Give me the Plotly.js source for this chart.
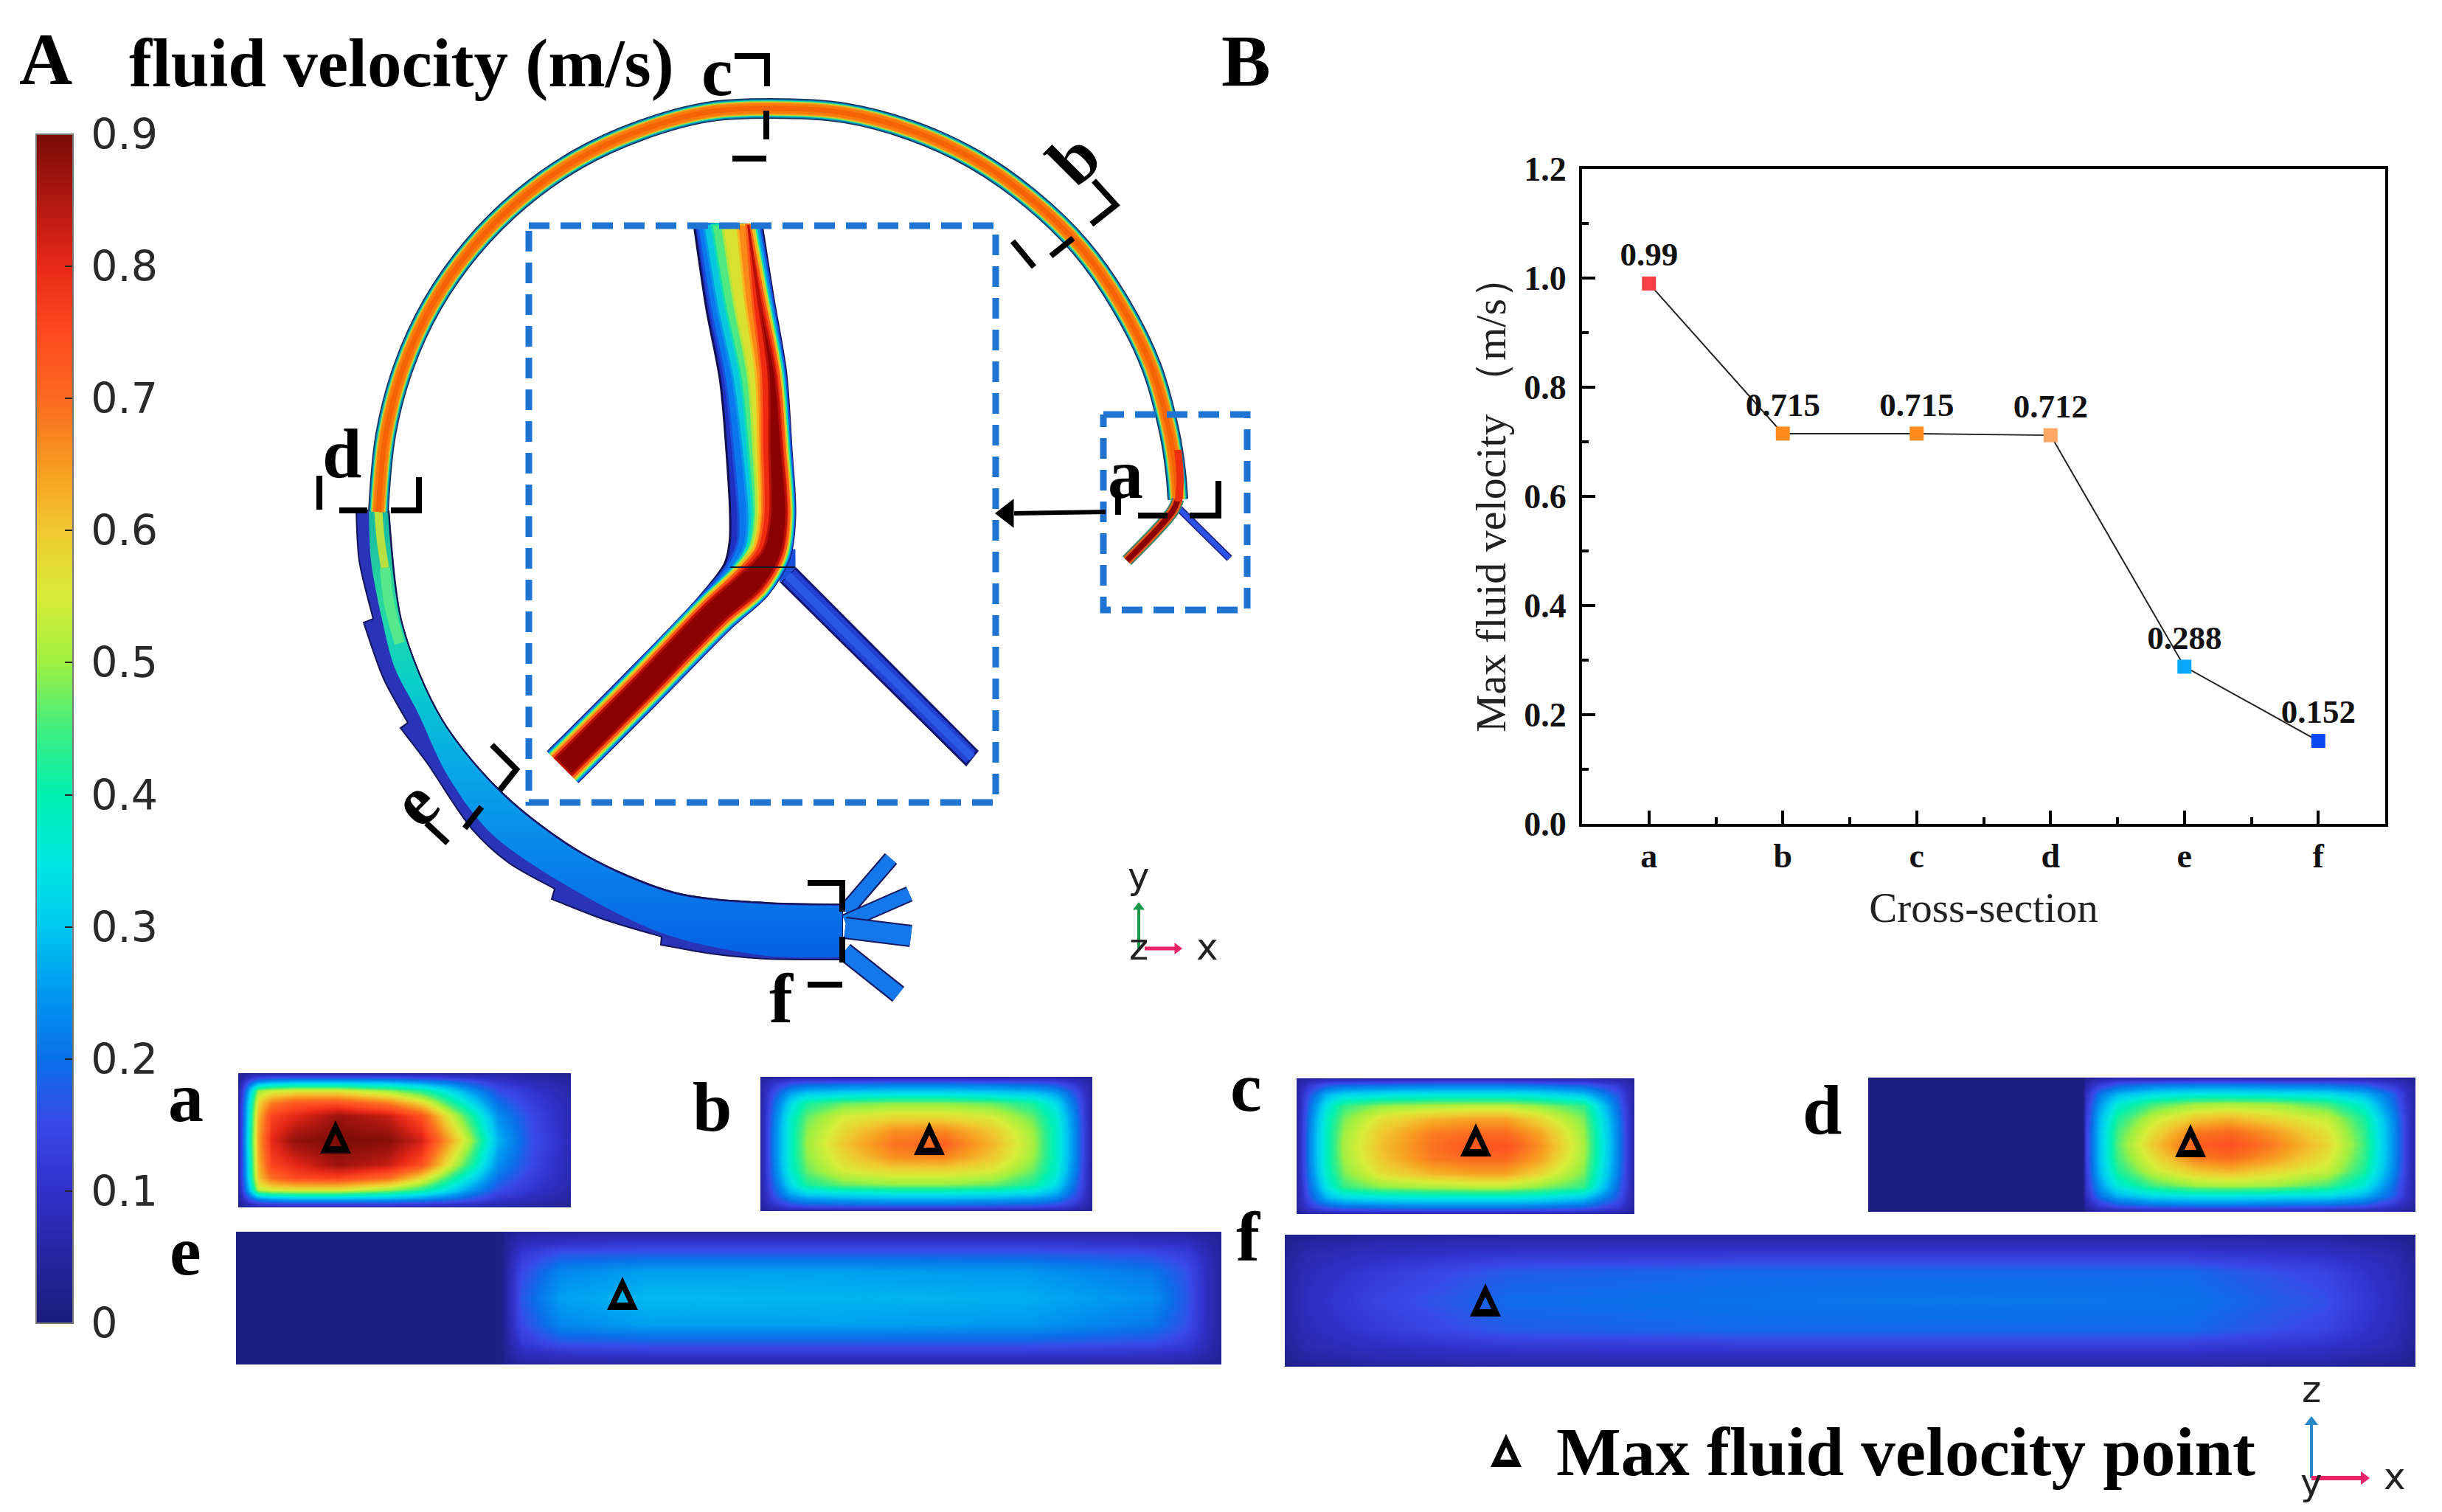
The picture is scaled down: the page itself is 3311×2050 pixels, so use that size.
<!DOCTYPE html>
<html><head><meta charset="utf-8">
<script src="https://cdn.plot.ly/plotly-3.0.1.min.js"></script>
<style>html,body{margin:0;padding:0;background:#fff}</style></head>
<body><div id="chart" style="width:3311px;height:2050px"></div>
<script>
// ---------- panel B data ----------
const crossSections = ['a','b','c','d','e','f'];
const maxVelocity = [0.99,0.715,0.715,0.712,0.288,0.152];
const velocityLabels = ['0.99','0.715','0.715','0.712','0.288','0.152'];
const pointColors = ['#fb4048','#ff8a1c','#ff8a1c','#ffa866','#08aaff','#0a48f0'];
const yTicks = [0,0.2,0.4,0.6,0.8,1.0,1.2];
const yTickLabels = ['0.0','0.2','0.4','0.6','0.8','1.0','1.2'];
const yMinor = [0.1,0.3,0.5,0.7,0.9,1.1];
const xMinor = [0.5,1.5,2.5,3.5,4.5];

// ---------- colour bar ----------
const barTicks = [0,0.1,0.2,0.3,0.4,0.5,0.6,0.7,0.8,0.9];
const barLabels = ['\u20090','\u20090.1','\u20090.2','\u20090.3','\u20090.4','\u20090.5','\u20090.6','\u20090.7','\u20090.8','\u20090.9'];
const rainbow = [[0,'#1b1b7a'],[0.111,'#3030c8'],[0.167,'#3a48e8'],[0.222,'#0a70e8'],[0.278,'#0098f0'],[0.333,'#00c8f0'],
 [0.389,'#00e8e0'],[0.444,'#00f0b0'],[0.5,'#40ee80'],[0.556,'#a0f040'],[0.611,'#d8ec38'],[0.667,'#f0c830'],[0.722,'#f89a20'],
 [0.778,'#fb6a20'],[0.833,'#ff4a20'],[0.889,'#e82818'],[0.944,'#b01810'],[1,'#7a0c06']];

// ---------- cross-section velocity grids ----------
const aX=[0,.03,.06,.1,.17,.3,.45,.55,.62,.7,.78,.88,1];
const aY=[0,.06,.13,.22,.32,.5,.68,.78,.87,.94,1];
const aZ=[
[.03,.04,.05,.05,.05,.05,.05,.05,.05,.05,.05,.04,.03],
[.03,.15,.22,.25,.27,.27,.26,.23,.2,.16,.11,.08,.05],
[.04,.27,.5,.54,.56,.56,.5,.43,.35,.25,.16,.11,.06],
[.05,.32,.58,.68,.73,.74,.68,.58,.46,.33,.2,.13,.07],
[.05,.34,.62,.76,.8,.87,.83,.74,.58,.42,.24,.15,.07],
[.05,.36,.64,.8,.88,.9,.89,.82,.67,.5,.28,.16,.08],
[.05,.34,.62,.76,.8,.87,.83,.74,.58,.42,.24,.15,.07],
[.05,.33,.6,.7,.75,.76,.7,.58,.46,.33,.2,.13,.07],
[.04,.28,.52,.55,.56,.56,.5,.43,.35,.25,.16,.11,.06],
[.03,.15,.22,.25,.27,.27,.26,.23,.2,.16,.11,.08,.05],
[.03,.04,.05,.05,.05,.05,.05,.05,.05,.05,.05,.04,.03]];
const bX=[0,.04,.09,.14,.25,.4,.55,.7,.82,.89,.95,1];
const bY=[0,.05,.12,.2,.3,.4,.5,.6,.7,.8,.88,.95,1];
const bZ=[
[.04,.05,.06,.06,.06,.06,.06,.06,.06,.06,.05,.04],
[.05,.11,.16,.18,.19,.2,.2,.19,.18,.16,.11,.05],
[.05,.16,.26,.3,.32,.33,.33,.32,.3,.26,.16,.05],
[.05,.19,.33,.42,.47,.49,.49,.47,.42,.33,.19,.05],
[.05,.21,.37,.47,.55,.58,.58,.55,.47,.37,.21,.05],
[.05,.22,.38,.49,.58,.66,.67,.6,.5,.38,.22,.05],
[.05,.22,.38,.5,.6,.69,.715,.62,.51,.38,.22,.05],
[.05,.22,.38,.49,.58,.66,.67,.6,.5,.38,.22,.05],
[.05,.21,.37,.47,.55,.58,.58,.55,.47,.37,.21,.05],
[.05,.19,.33,.42,.47,.49,.49,.47,.42,.33,.19,.05],
[.05,.16,.26,.3,.32,.33,.33,.32,.3,.26,.16,.05],
[.05,.11,.16,.18,.19,.2,.2,.19,.18,.16,.11,.05],
[.04,.05,.06,.06,.06,.06,.06,.06,.06,.06,.05,.04]];
const cX=[0,.04,.09,.14,.25,.4,.52,.62,.72,.85,.95,1];
const cY=[0,.05,.12,.2,.3,.4,.5,.6,.7,.8,.88,.95,1];
const cZ=[
[.04,.05,.06,.06,.06,.06,.06,.06,.06,.06,.05,.04],
[.05,.12,.17,.19,.2,.21,.21,.21,.2,.18,.12,.05],
[.05,.17,.28,.32,.34,.35,.35,.35,.34,.3,.17,.05],
[.05,.2,.35,.44,.49,.51,.52,.52,.49,.44,.2,.05],
[.05,.22,.38,.48,.57,.62,.64,.64,.58,.48,.22,.05],
[.05,.23,.39,.5,.6,.68,.7,.7,.64,.5,.23,.05],
[.05,.23,.39,.51,.61,.69,.73,.735,.66,.51,.23,.05],
[.05,.23,.39,.5,.6,.68,.7,.7,.64,.5,.23,.05],
[.05,.22,.38,.48,.57,.62,.64,.64,.58,.48,.22,.05],
[.05,.2,.35,.44,.49,.51,.52,.52,.49,.44,.2,.05],
[.05,.17,.28,.32,.34,.35,.35,.35,.34,.3,.17,.05],
[.05,.12,.17,.19,.2,.21,.21,.21,.2,.18,.12,.05],
[.04,.05,.06,.06,.06,.06,.06,.06,.06,.06,.05,.04]];
const dX=[0,.392,.398,.42,.455,.52,.6,.66,.74,.84,.905,.96,1];
const dY=[0,.05,.12,.2,.3,.4,.5,.6,.7,.8,.88,.95,1];
const dZ=[
[.01,.01,.03,.05,.06,.06,.06,.06,.06,.06,.06,.05,.04],
[.01,.01,.06,.12,.17,.2,.21,.21,.2,.19,.17,.11,.05],
[.01,.01,.09,.2,.28,.33,.35,.35,.34,.33,.28,.18,.05],
[.01,.01,.11,.24,.36,.45,.5,.51,.5,.45,.36,.2,.05],
[.01,.01,.12,.27,.42,.53,.6,.62,.58,.53,.42,.23,.05],
[.01,.01,.13,.28,.45,.57,.68,.7,.65,.56,.44,.24,.05],
[.01,.01,.13,.28,.46,.6,.72,.74,.68,.58,.45,.24,.05],
[.01,.01,.13,.28,.45,.57,.68,.7,.65,.56,.44,.24,.05],
[.01,.01,.12,.27,.42,.53,.6,.62,.58,.53,.42,.23,.05],
[.01,.01,.11,.24,.36,.45,.5,.51,.5,.45,.36,.2,.05],
[.01,.01,.09,.2,.28,.33,.35,.35,.34,.33,.28,.18,.05],
[.01,.01,.06,.12,.17,.2,.21,.21,.2,.19,.17,.11,.05],
[.01,.01,.03,.05,.06,.06,.06,.06,.06,.06,.06,.05,.04]];
const eX=[0,.268,.275,.29,.33,.42,.6,.8,.93,.965,.985,1];
const eY=[0,.08,.17,.3,.5,.7,.83,.92,1];
const eZ=[
[.01,.01,.03,.05,.05,.05,.05,.05,.05,.05,.04,.03],
[.01,.01,.04,.08,.1,.11,.11,.11,.1,.09,.06,.04],
[.01,.01,.05,.12,.17,.18,.18,.18,.16,.13,.08,.04],
[.01,.01,.06,.15,.23,.26,.26,.25,.21,.16,.09,.04],
[.01,.01,.06,.17,.26,.285,.28,.275,.24,.17,.09,.04],
[.01,.01,.06,.15,.23,.26,.26,.25,.21,.16,.09,.04],
[.01,.01,.05,.12,.17,.18,.18,.18,.16,.13,.08,.04],
[.01,.01,.04,.08,.1,.11,.11,.11,.1,.09,.06,.04],
[.01,.01,.03,.05,.05,.05,.05,.05,.05,.05,.04,.03]];
const fX=[0,.02,.08,.2,.4,.6,.8,.92,.98,1];
const fY=[0,.06,.15,.28,.5,.72,.85,.94,1];
const fZ=[
[.02,.03,.04,.05,.05,.05,.05,.04,.03,.02],
[.03,.05,.07,.08,.08,.08,.08,.07,.05,.03],
[.04,.07,.09,.115,.12,.12,.12,.1,.07,.04],
[.05,.08,.12,.175,.19,.19,.19,.14,.08,.05],
[.05,.09,.14,.195,.205,.21,.205,.16,.09,.05],
[.05,.08,.12,.175,.19,.19,.19,.14,.08,.05],
[.04,.07,.09,.115,.12,.12,.12,.1,.07,.04],
[.03,.05,.07,.08,.08,.08,.08,.07,.05,.03],
[.02,.03,.04,.05,.05,.05,.05,.04,.03,.02]];
const sectionBoxes = {a:[323,774,1455,1637],b:[1031,1481,1460,1642],c:[1758,2216,1462,1646],d:[2533,3275,1461,1643],e:[320,1656,1670,1850],f:[1742,3275,1674,1853]};
const sectionGrids = {a:[aX,aY,aZ],b:[bX,bY,bZ],c:[cX,cY,cZ],d:[dX,dY,dZ],e:[eX,eY,eZ],f:[fX,fY,fZ]};
const peakX=[455,1260,2001,2970,844,2014,2042];
const peakY=[1543,1545,1547,1548,1755,1764,1968];

// ---------- channel geometry ----------
const ringX=[1597,1594,1586,1561,1519,1465,1398,1321,1236,1145,1045,959,868,783,706,640,586,547,523,513];
const ringY=[677,640,588,497,412,335,270,216,177,153,147,152,177,216,270,336,413,498,589,694];
const ringStripes=[[28,'#16305c'],[25,'#0086b8'],[22,'#20d8a8'],[19.5,'#b0dc38'],[17,'#f4a018'],[14,'#fb7a0c'],[7,'#f46406']];
const stubLeftX=[1597,1590,1528]; const stubLeftY=[677,693,760];
const stubRightX=[1597,1667]; const stubRightY=[688,757];
const funnelOuterRuns=[
 [[483,487,506],[693,760,839]],[[506,493],[839,844]],[[493,520,553],[844,920,980]],[[553,543],[980,987]],
 [[543,578,640,690,752],[987,1033,1124,1170,1205]],[[752,748],[1205,1219]],[[748,823,897],[1219,1248,1270]],[[897,896],[1270,1281]],
 [[896,964,1038,1142],[1281,1293,1300,1301]],[[1142,1142],[1301,1226]],
 [[1142,1038,914,790,682,599,545,527],[1226,1224,1210,1157,1076,975,845,693]],[[527,483],[693,693]]];
const funnelMainRuns=[
 [[500,503,518,535,566,606,664,762,900,1040,1142],[693,760,840,905,965,1050,1128,1197,1266,1296,1298]],[[1142,1142],[1298,1228]],
 [[1142,1038,914,790,682,599,545,527],[1228,1226,1212,1159,1078,977,847,693]],[[527,500],[693,693]]];
const funnelInnerEdgeX=[1142,1038,914,790,682,599,545,527];
const funnelInnerEdgeY=[1226,1224,1210,1157,1076,975,845,693];
const funnelGrad=[[0,'#18b8a0'],[0.2,'#28d8a0'],[0.38,'#08d0c8'],[0.57,'#08a8e8'],[0.75,'#0888ea'],[1,'#0560e4']];
const coreAX=[513,516,522]; const coreAY=[693,730,770];
const coreBX=[522,528,542]; const coreBY=[770,820,872];
const outletsX=[[1146,1208],[1146,1233],[1146,1235],[1145,1218]];
const outletsY=[[1236,1164],[1250,1212],[1258,1269],[1290,1348]];
const outletW=[18,18,26,22];
const insetX=[987,1003,1021,1029,1034,1030,1012,970,870,764];
const insetY=[305,410,510,610,700,745,785,830,933,1039];
const insetHalf=[46,46,45,44,44,42,36,30,29,29];
const blueL=[-.9,-.88,-.85,-.8,-.75,-.75,-.9,-.97,-.97,-.97], blueR=[.95,.97,.97,.98,.98,.98,.98,.97,.97,.97];
const cyanL=[-.72,-.68,-.62,-.53,-.47,-.5,-.7,-.92,-.92,-.92], cyanR=[.89,.92,.93,.94,.95,.95,.95,.92,.92,.92];
const greenL=[-.48,-.44,-.38,-.34,-.32,-.4,-.65,-.87,-.87,-.87], greenR=[.8,.86,.9,.92,.93,.92,.92,.87,.87,.87];
const yellowL=[-.17,-.17,-.15,-.17,-.2,-.3,-.6,-.82,-.82,-.82], yellowR=[.76,.82,.85,.88,.89,.88,.88,.82,.82,.82];
const orangeL=[.28,.17,.09,-.02,-.09,-.2,-.55,-.76,-.76,-.76], orangeR=[.72,.78,.82,.84,.86,.84,.83,.76,.76,.76];
const redL=[.54,.38,.24,.1,.02,-.1,-.45,-.68,-.68,-.68], redR=[.63,.72,.78,.8,.82,.8,.78,.68,.68,.68];
const darkL=[.6,.55,.47,.32,.23,.1,-.3,-.55,-.55,-.55], darkR=[.6,.6,.67,.7,.73,.7,.65,.55,.55,.55];
const insetLevels=[[blueL,blueR,'#0a78ec','#1a50dc'],[cyanL,cyanR,'#08c8e0','#0898e8'],[greenL,greenR,'#50e880','#10e0b0'],[yellowL,yellowR,'#d8e030','#a8e840'],
 [orangeL,orangeR,'#fb8a18','#f8b820'],[redL,redR,'#ee2a10','#fb5a18'],[darkL,darkR,'#8b0000','#b81008']];
const insetRightX=[1078,1325,1310,1059]; const insetRightY=[770,1018,1037,789];
const insetRightCoreX=[1066,1318]; const insetRightCoreY=[778,1027];
const insetJoinX=[1030,1078,1078,1059,1040]; const insetJoinY=[745,745,770,789,770];
const junctionX=[990,1078]; const junctionY=[769,769];
const bracketPaths=[
 [[996,1040,1040],[76,76,117]],[[1039,1039],[150,189]],[[993,1039],[215,215]],
 [[433,433],[645,691]],[[460,498],[692,692]],[[530,568,568],[692,692,647]],
 [[1483,1513,1480],[245,278,304]],[[1455,1425],[323,347]],[[1373,1402],[327,362]],
 [[667,700,678],[1010,1043,1071]],[[653,630],[1094,1123]],[[578,607],[1116,1143]],
 [[1095,1142,1142],[1197,1197,1236]],[[1142,1142],[1270,1305]],[[1095,1142],[1335,1335]],
 [[1543,1583],[699,699]],[[1613,1652,1652],[699,699,652]],[[1516,1516],[670,698]]];
const arrowLineX=[1499,1375]; const arrowLineY=[694,696];
const arrowHeadX=[1366]; const arrowHeadY=[696];
const boxBigX=[717,1350,1350,717,717]; const boxBigY=[306,306,1088,1088,306];
const boxSmallX=[1496,1691,1691,1496,1496]; const boxSmallY=[562,562,827,827,562];
const triadA={greenX:[1544,1544],greenY:[1286,1230],redX:[1552,1596],redY:[1286,1286]};
const triadB={blueX:[3134,3134],blueY:[2004,1928],redX:[3134,3205],redY:[2004,2004]};
const SERIF='"Liberation Serif","Times New Roman",serif';
const SANS='"DejaVu Sans",sans-serif';
const boldLabels=[['A',62,80,100,0],['fluid velocity (m/s)',544,85,93,0],['B',1689,82,100,0],
 ['c',972,96,96,0],['d',463,614,96,0],['b',1455,215,96,-45],['a',1526,642,96,0],['e',562,1088,96,-45],['f',1059,1353,96,0],
 ['a',252,1487,96,0],['b',965,1500,96,0],['c',1689,1473,96,0],['d',2470,1504,96,0],['e',251,1695,96,0],['f',1692,1676,96,0],
 ['Max fluid velocity point',2584,1968,93,0]];
const sansLabels=[['y',1544,1188,50],['x',1637,1284,50],['z',1544,1284,50],['z',3134,1884,50],['x',3247,2002,50],['y',3134,2010,50]];

// ---------- build ----------
const W=3311,H=2050;
const traces=[];
const OV={xaxis:'x8',yaxis:'y8',hoverinfo:'skip',showlegend:false};
function line(x,y,color,width,extra){traces.push(Object.assign({type:'scatter',mode:'lines',x,y,line:{color,width}},OV,extra||{}));}
function poly(x,y,fill,lc,lw,extra){traces.push(Object.assign({type:'scatter',mode:'lines',x:x.concat([x[0]]),y:y.concat([y[0]]),fill:'toself',fillcolor:fill,line:{color:lc,width:lw}},OV,extra||{}));}
function chain(runs){
 const X=[],Y=[];
 const near=(ax,ay,bx,by)=>{const d=Math.hypot(bx-ax,by-ay);if(d===0)return null;const t=Math.min(2.5,d/3)/d;return [ax+(bx-ax)*t,ay+(by-ay)*t];};
 runs.forEach(r=>{
  const [xs,ys]=r,n=xs.length-1;
  xs.forEach((x,i)=>{
   X.push(x);Y.push(ys[i]);
   if(i===0){const p=near(x,ys[0],xs[1],ys[1]);if(p){X.push(p[0]);Y.push(p[1]);}}
   if(i===n-1){const p=near(xs[n],ys[n],x,ys[i]);if(p&&n>1){X.push(p[0]);Y.push(p[1]);}}
  });
 });
 return [X,Y];
}
const SPL={shape:'spline',smoothing:0.9,simplify:false};

traces.push({type:'scatter',mode:'lines+markers+text',x:crossSections.map((_,i)=>i),y:maxVelocity,text:velocityLabels,textposition:'top center',
 textfont:{family:SERIF,size:45,color:'#111',weight:'bold'},line:{color:'#222',width:2},
 marker:{symbol:'square',size:19,color:pointColors,line:{width:0}},xaxis:'x',yaxis:'y',showlegend:false,cliponaxis:false});

const order=['a','b','c','d','e','f'];
const layout={width:W,height:H,margin:{l:0,r:0,t:0,b:0},paper_bgcolor:'#fff',plot_bgcolor:'rgba(0,0,0,0)',showlegend:false,
 coloraxis:{cmin:0,cmax:0.9,colorscale:rainbow,colorbar:{x:49/W,xanchor:'left',y:1-182/H,yanchor:'top',lenmode:'pixels',len:1612,thicknessmode:'pixels',thickness:50,xpad:0,ypad:0,
   tickmode:'array',tickvals:barTicks,ticktext:barLabels,ticks:'inside',ticklen:12,tickcolor:'#222',tickwidth:2,outlinecolor:'#777',outlinewidth:2,
   tickfont:{family:SANS,size:57,color:'#2a2a2a'}}},
 xaxis:{domain:[2145/W,3234/W],range:[-0.5,5.5],anchor:'y',tickmode:'array',tickvals:crossSections.map((_,i)=>i),ticktext:crossSections,ticks:'inside',ticklen:18,tickwidth:4,tickcolor:'#000',
   minor:{tickmode:'array',tickvals:xMinor,ticks:'inside',ticklen:9,tickwidth:4,tickcolor:'#000'},
   showline:true,mirror:true,linecolor:'#000',linewidth:4,showgrid:false,zeroline:false,tickfont:{family:SERIF,size:46,color:'#111',weight:'bold'},
   title:{text:'Cross-section',font:{family:SERIF,size:57,color:'#222'},standoff:26},ticklabelstandoff:0},
 yaxis:{domain:[1-1117/H,1-229/H],range:[0,1.2],anchor:'x',tickmode:'array',tickvals:yTicks,ticktext:yTickLabels,ticks:'inside',ticklen:18,tickwidth:4,tickcolor:'#000',
   minor:{tickmode:'array',tickvals:yMinor,ticks:'inside',ticklen:9,tickwidth:4,tickcolor:'#000'},
   showline:true,mirror:true,linecolor:'#000',linewidth:4,showgrid:false,zeroline:false,tickfont:{family:SERIF,size:46,color:'#111',weight:'bold'},ticklabelstandoff:8},
 xaxis8:{domain:[0,1],range:[0,W],visible:false,anchor:'y8',fixedrange:true},
 yaxis8:{domain:[0,1],range:[H,0],visible:false,anchor:'x8',fixedrange:true},
 annotations:[],shapes:[]};
order.forEach((k,i)=>{
 const n=i+2,[l,r,t,b]=sectionBoxes[k],[gx,gy,gz]=sectionGrids[k];
 traces.push({type:'heatmap',x:gx,y:gy,z:gz,coloraxis:'coloraxis',zsmooth:'best',xaxis:'x'+n,yaxis:'y'+n,hoverinfo:'skip'});
 layout['xaxis'+n]={domain:[l/W,r/W],range:[0,1],visible:false,anchor:'y'+n};
 layout['yaxis'+n]={domain:[1-b/H,1-t/H],range:[1,0],visible:false,anchor:'x'+n};
});

outletsX.forEach((x,i)=>{line(x,outletsY[i],'#181860',outletW[i]+4);line(x,outletsY[i],'#1478ea',outletW[i]);});
{const [fx,fy]=chain(funnelOuterRuns);
 traces.push(Object.assign({type:'scatter',mode:'lines',x:fx,y:fy,fill:'toself',fillcolor:'#2a34b8',line:Object.assign({color:'#141458',width:2},SPL)},OV));
 const [mx,my]=chain(funnelMainRuns);
 traces.push(Object.assign({type:'scatter',mode:'lines',x:mx,y:my,fill:'toself',fillgradient:{type:'vertical',colorscale:funnelGrad,start:693,stop:1300},line:Object.assign({width:0},SPL)},OV));
}
line(coreAX,coreAY,'#b8e040',11,{line:{color:'#b8e040',width:11,shape:'spline'}});
line(coreBX,coreBY,'#58e88c',14,{line:{color:'#58e88c',width:14,shape:'spline'}});
line(funnelInnerEdgeX,funnelInnerEdgeY,'#141458',2,{line:{color:'#141458',width:2,shape:'spline',smoothing:0.9}});
ringStripes.forEach(s=>line(ringX,ringY,s[1],s[0],{line:{color:s[1],width:s[0],shape:'spline',smoothing:1}}));
line(stubRightX,stubRightY,'#1a1a70',10);line(stubRightX,stubRightY,'#2c52e8',7);
line(stubLeftX,stubLeftY,'#3a8a70',17,{line:{color:'#3a8a70',width:17,shape:'spline'}});
line(stubLeftX,stubLeftY,'#f05818',13,{line:{color:'#f05818',width:13,shape:'spline'}});
line(stubLeftX,stubLeftY,'#8b0000',8,{line:{color:'#8b0000',width:8,shape:'spline'}});
line([1597,1600,1598],[610,650,680],'#ee3010',10,{line:{color:'#ee3010',width:10,shape:'spline'}});
function offsetPts(off){
 const xs=[],ys=[];
 insetX.forEach((x0,i)=>{
  const a=Math.max(i-1,0),b=Math.min(i+1,insetX.length-1);
  const dx=insetX[b]-insetX[a],dy=insetY[b]-insetY[a],m=Math.hypot(dx,dy);
  let nx=dy/m,ny=-dx/m; if(i===0){nx=1;ny=0;}
  xs.push(x0+nx*off[i]*insetHalf[i]);ys.push(insetY[i]+ny*off[i]*insetHalf[i]);
 });
 return [xs,ys];
}
function level(L,R,fill,edge,lw){
 const [lx,ly]=offsetPts(L),[rx,ry]=offsetPts(R),n=lx.length-1;
 const [X,Y]=chain([[lx,ly],[[lx[n],rx[n]],[ly[n],ry[n]]],[rx.slice().reverse(),ry.slice().reverse()],[[rx[0],lx[0]],[ry[0],ly[0]]]]);
 traces.push(Object.assign({type:'scatter',mode:'lines',x:X,y:Y,fill:'toself',fillcolor:fill,line:Object.assign({color:edge,width:lw},SPL)},OV));
}
poly(insetRightX,insetRightY,'#2440d0','#141470',3);
line(insetRightCoreX,insetRightCoreY,'#2a5ae4',11);
poly(insetJoinX,insetJoinY,'#1a50d8','#1a50d8',1);
level(insetHalf.map(()=>-1),insetHalf.map(()=>1),'#2030c0','#101050',3);
insetLevels.forEach(l=>level(l[0],l[1],l[2],l[3],3));
line(junctionX,junctionY,'#101030',2);
line(boxBigX,boxBigY,'#1f74d2',9,{line:{color:'#1f74d2',width:9,dash:'28px,15px'}});
line(boxSmallX,boxSmallY,'#1f74d2',9,{line:{color:'#1f74d2',width:9,dash:'28px,15px'}});
bracketPaths.forEach(p=>line(p[0],p[1],'#000',8));
line(arrowLineX,arrowLineY,'#000',6);
traces.push(Object.assign({type:'scatter',mode:'markers',x:arrowHeadX,y:arrowHeadY,marker:{symbol:'triangle-left',size:34,color:'#000'}},OV));
line(triadA.greenX,triadA.greenY,'#1a9a48',4);line(triadA.redX,triadA.redY,'#e82466',5);
traces.push(Object.assign({type:'scatter',mode:'markers',x:[triadA.greenX[1]],y:[triadA.greenY[1]],marker:{symbol:'triangle-up',size:14,color:'#1a9a48'}},OV));
traces.push(Object.assign({type:'scatter',mode:'markers',x:[triadA.redX[1]],y:[triadA.redY[1]],marker:{symbol:'triangle-right',size:14,color:'#e82466'}},OV));
line(triadB.blueX,triadB.blueY,'#2a88c8',4);line(triadB.redX,triadB.redY,'#e82466',6);
traces.push(Object.assign({type:'scatter',mode:'markers',x:[triadB.blueX[1]],y:[triadB.blueY[1]],marker:{symbol:'triangle-up',size:16,color:'#2a88c8'}},OV));
traces.push(Object.assign({type:'scatter',mode:'markers',x:[triadB.redX[1]],y:[triadB.redY[1]],marker:{symbol:'triangle-right',size:16,color:'#e82466'}},OV));
peakX.forEach((x,i)=>{
 const y=peakY[i];
 traces.push(Object.assign({type:'scatter',mode:'lines',fill:'toself',fillcolor:'#000',line:{width:0,simplify:false},
  x:[x,x+21,x-21,x,x,x-8,x+8,x,x],
  y:[y-24,y+21,y+21,y-24,y-6,y+11,y+11,y-6,y-24]},OV));
});

boldLabels.forEach(a=>layout.annotations.push({xref:'x8',yref:'y8',x:a[1],y:a[2],text:a[0],showarrow:false,xanchor:'center',yanchor:'middle',textangle:a[4],
  font:{family:SERIF,size:a[3],color:'#000',weight:'bold'}}));
sansLabels.forEach(a=>layout.annotations.push({xref:'x8',yref:'y8',x:a[1],y:a[2],text:a[0],showarrow:false,xanchor:'center',yanchor:'middle',
  font:{family:SANS,size:a[3],color:'#222'}}));
layout.annotations.push({xref:'x8',yref:'y8',x:2021,y:670,text:'Max fluid velocity （m/s）',showarrow:false,xanchor:'center',yanchor:'middle',textangle:-90,
  font:{family:SERIF,size:58,color:'#222'}});

Plotly.newPlot('chart',traces,layout,{staticPlot:true,displayModeBar:false});
</script></body></html>
